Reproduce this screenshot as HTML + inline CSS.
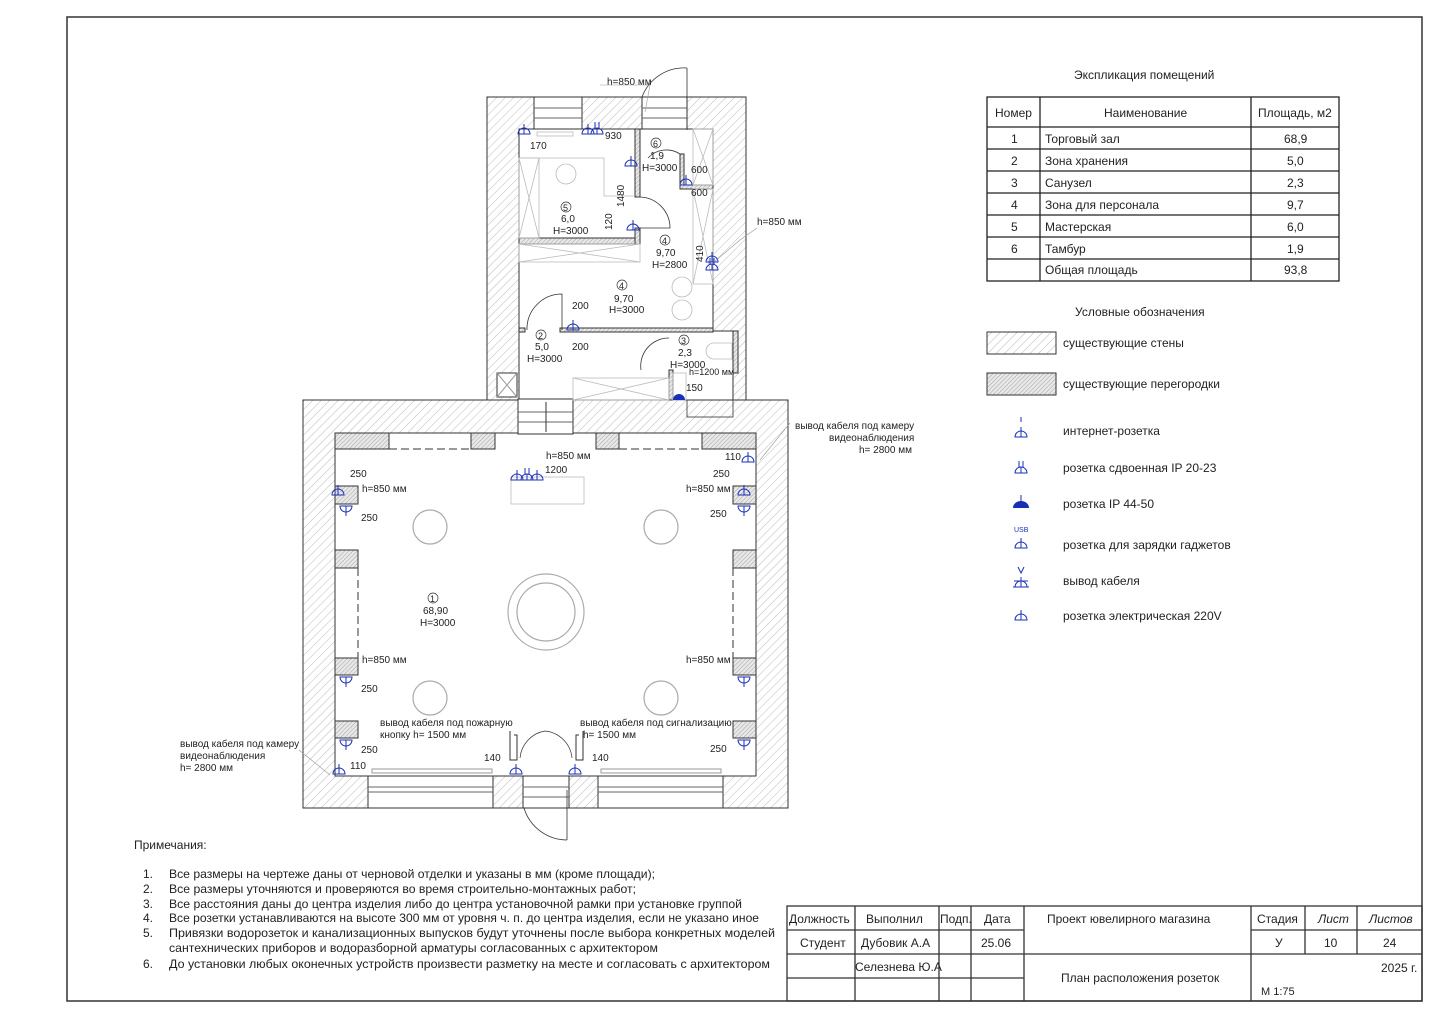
<!DOCTYPE html>
<html><head><meta charset="utf-8"><style>
html,body{margin:0;padding:0;background:#fff;}
svg{display:block;font-family:"Liberation Sans","DejaVu Sans",sans-serif;}
.t{font-size:10px;fill:#222;}
.n{font-size:12px;fill:#222;}
.bl{stroke:#1a2fb8;fill:none;stroke-width:1;}
</style></head><body>
<svg width="1440" height="1020" viewBox="0 0 1440 1020" xmlns="http://www.w3.org/2000/svg">
<defs>
<pattern id="h" patternUnits="userSpaceOnUse" width="6" height="6" patternTransform="rotate(45)">
<rect width="6" height="6" fill="#fff"/><line x1="0" y1="0" x2="0" y2="6" stroke="#aaa" stroke-width="0.8"/></pattern>
<pattern id="h2" patternUnits="userSpaceOnUse" width="3" height="3" patternTransform="rotate(45)">
<rect width="3" height="3" fill="#e8e8e8"/><line x1="0" y1="0" x2="0" y2="3" stroke="#888" stroke-width="0.7"/></pattern>
<g id="s"><path d="M-6,0 A6,6 0 0 1 6,0 Z" class="bl"/><line x1="0" y1="-10" x2="0" y2="0" class="bl"/></g>
<g id="sd"><path d="M-6,0 A6,6 0 0 1 6,0 Z" class="bl"/><line x1="0" y1="-6" x2="0" y2="0" class="bl"/><line x1="-2" y1="-12" x2="-2" y2="-5" class="bl"/><line x1="2" y1="-12" x2="2" y2="-5" class="bl"/></g>
<g id="sd2"><path d="M-6,0 A6,6 0 0 0 6,0 Z" class="bl"/><line x1="0" y1="10" x2="0" y2="0" class="bl"/></g>
</defs>
<rect width="1440" height="1020" fill="#fff"/>
<rect x="67" y="17" width="1355" height="984" fill="none" stroke="#333" stroke-width="1.5"/>

<path d="M487,97 H746 V400 H733 V331 H713 V129 H519 V400 H487 Z" fill="url(#h)" stroke="#333" stroke-width="1"/>
<path fill-rule="evenodd" d="M303,400 H788 V808 H303 Z M335,433 H756 V776 H335 Z" fill="url(#h)" stroke="#333" stroke-width="1"/>
<rect x="534" y="97" width="48" height="32" fill="#fff" stroke="#333"/>
<line x1="534" y1="108" x2="582" y2="108" stroke="#666"/><line x1="534" y1="118" x2="582" y2="118" stroke="#666"/>
<rect x="642" y="97" width="45" height="32" fill="#fff" stroke="#333"/>
<line x1="642" y1="108" x2="687" y2="108" stroke="#666"/><line x1="642" y1="118" x2="687" y2="118" stroke="#666"/>
<path d="M687,68 V130 M642,97 A45,45 0 0 1 687,68" fill="none" stroke="#333" stroke-width="0.8"/>
<rect x="518" y="399" width="55" height="35" fill="#fff" stroke="#333"/>
<line x1="518" y1="412" x2="573" y2="412" stroke="#666"/><line x1="518" y1="422" x2="573" y2="422" stroke="#666"/>
<line x1="546" y1="402" x2="546" y2="432" stroke="#333"/>
<rect x="335" y="433" width="54" height="16" fill="url(#h2)" stroke="#333"/>
<rect x="471" y="433" width="24" height="16" fill="url(#h2)" stroke="#333"/>
<rect x="596" y="433" width="23" height="16" fill="url(#h2)" stroke="#333"/>
<rect x="702" y="433" width="54" height="16" fill="url(#h2)" stroke="#333"/>
<line x1="389" y1="449" x2="471" y2="449" stroke="#333" stroke-dasharray="8,4"/>
<line x1="619" y1="449" x2="702" y2="449" stroke="#333" stroke-dasharray="8,4"/>
<g fill="url(#h2)" stroke="#333">
<rect x="335" y="486" width="23" height="18"/><rect x="335" y="550" width="23" height="18"/><rect x="335" y="658" width="23" height="17"/><rect x="335" y="721" width="23" height="17"/>
<rect x="733" y="486" width="23" height="18"/><rect x="733" y="550" width="23" height="18"/><rect x="733" y="658" width="23" height="17"/><rect x="733" y="721" width="23" height="17"/>
</g>
<line x1="358" y1="568" x2="358" y2="658" stroke="#333" stroke-dasharray="8,4"/>
<line x1="733" y1="568" x2="733" y2="658" stroke="#333" stroke-dasharray="8,4"/>
<rect x="368" y="776" width="125" height="32" fill="#fff" stroke="#333"/>
<line x1="368" y1="787" x2="493" y2="787" stroke="#666"/><line x1="368" y1="792" x2="493" y2="792" stroke="#666"/>
<rect x="598" y="776" width="125" height="32" fill="#fff" stroke="#333"/>
<line x1="598" y1="787" x2="723" y2="787" stroke="#666"/><line x1="598" y1="792" x2="723" y2="792" stroke="#666"/>
<rect x="523" y="776" width="46" height="32" fill="#fff" stroke="#333"/>
<line x1="523" y1="787" x2="569" y2="787" stroke="#666"/><line x1="523" y1="797" x2="569" y2="797" stroke="#666"/>
<path d="M567,790 V840 M524,808 A45,45 0 0 0 567,840" fill="none" stroke="#333" stroke-width="0.8"/>
<path d="M510,731 V760 H517 V735 H514 M583,731 V760 H576 V735 H579" fill="none" stroke="#333"/>
<path d="M520,758 A30,30 0 0 1 545,731 M572,758 A30,30 0 0 0 545,731" fill="none" stroke="#333" stroke-width="0.7"/>
<rect x="372" y="769" width="120" height="4" fill="none" stroke="#999"/>
<rect x="601" y="769" width="120" height="4" fill="none" stroke="#999"/>

<g fill="url(#h2)" stroke="#333">
<rect x="519" y="238" width="121" height="6"/>
<rect x="635" y="129" width="5" height="68"/>
<rect x="635" y="228" width="5" height="16"/>
<rect x="680" y="154" width="4" height="34"/>
<rect x="680" y="185" width="33" height="4"/>
<rect x="560" y="328" width="153" height="4"/>
<rect x="519" y="328" width="6" height="4"/>
<rect x="669" y="370" width="4" height="30"/>
<rect x="733" y="331" width="5" height="42"/>
</g>
<rect x="497" y="373" width="20" height="24" fill="#fff" stroke="#333"/>
<path d="M497,373 L517,397 M517,373 L497,397" stroke="#999"/>
<path d="M527,330 A35,35 0 0 1 562,294 V330" fill="none" stroke="#333" stroke-width="0.8"/>
<path d="M640,197 A31,31 0 0 1 670,228 H640" fill="none" stroke="#333" stroke-width="0.8"/>
<path d="M641,370 A28,28 0 0 1 669,338" fill="none" stroke="#333" stroke-width="0.8"/>
<path d="M648,158 A25,25 0 0 1 680,154" fill="none" stroke="#333" stroke-width="0.8"/>
<g fill="none" stroke="#bbb" stroke-width="0.8">
<rect x="537" y="132" width="36" height="4"/>
<path d="M519,158 H604 V196 H635"/>
<rect x="519" y="244" width="121" height="18"/><path d="M519,244 L640,262 M640,244 L519,262"/>
<rect x="519" y="158" width="20" height="80"/><path d="M519,158 L539,238 M539,158 L519,238"/>
<rect x="693" y="129" width="20" height="56"/><path d="M693,129 L713,185 M713,129 L693,185"/>
<rect x="693" y="189" width="20" height="95"/><path d="M693,189 L713,284 M713,189 L693,284"/>
<rect x="573" y="378" width="96" height="22"/><path d="M573,378 L669,400 M669,378 L573,400"/>
<rect x="673" y="373" width="13" height="27"/>
<circle cx="566" cy="174" r="10"/><circle cx="682" cy="287" r="10"/><circle cx="682" cy="310" r="10"/>
<path d="M714,343 H732 V359 H714 A8,8 0 0 1 714,343"/>
<rect x="687" y="400" width="46" height="17" stroke="#333"/>
<rect x="511" y="477" width="73" height="27"/>
</g>
<g fill="none" stroke="#aaa" stroke-width="1.2">
<circle cx="430" cy="527" r="17"/><circle cx="661" cy="527" r="17"/>
<circle cx="430" cy="698" r="17"/><circle cx="661" cy="698" r="17"/>
<circle cx="546" cy="612" r="38"/><circle cx="546" cy="612" r="29"/>
</g>
<g>
<use href="#s" x="338" y="495"/><use href="#sd2" x="346" y="506"/>
<use href="#sd2" x="346" y="677"/><use href="#sd2" x="346" y="740"/>
<use href="#s" x="339" y="774"/>
<use href="#s" x="744" y="495"/><use href="#sd2" x="744" y="506"/>
<use href="#sd2" x="744" y="677"/><use href="#sd2" x="744" y="740"/>
<use href="#s" x="748" y="462"/>
<use href="#s" x="517" y="480"/><use href="#sd" x="527" y="480"/><use href="#s" x="537" y="480"/>
<use href="#s" x="516" y="774"/><use href="#s" x="575" y="774"/>
<use href="#s" x="524" y="134"/><use href="#s" x="588" y="134"/><use href="#sd" x="597" y="134"/>
<use href="#s" x="631" y="166"/><use href="#s" x="633" y="230"/><use href="#s" x="686" y="185"/>
<use href="#s" x="573" y="330"/><use href="#s" x="712" y="262"/><use href="#sd" x="712" y="270"/>
<path d="M673,400 A6,6 0 0 1 685,400 Z" fill="#1a2fb8"/>
</g>
<g class="t">
<text x="607" y="85">h=850 мм</text>
<text x="757" y="225">h=850 мм</text>
<text x="530" y="149">170</text><text x="605" y="139">930</text>
<circle cx="656" cy="143" r="5" fill="none" stroke="#333" stroke-width="0.7"/><text x="653" y="147" font-size="9">6</text>
<text x="650" y="159">1,9</text><text x="642" y="171">H=3000</text>
<text x="691" y="173">600</text><text x="691" y="196">600</text>
<circle cx="566" cy="207" r="5" fill="none" stroke="#333" stroke-width="0.7"/><text x="563" y="211" font-size="9">5</text>
<text x="561" y="222">6,0</text><text x="553" y="234">H=3000</text>
<text x="0" y="0" transform="translate(624,207) rotate(-90)">1480</text>
<text x="0" y="0" transform="translate(612,230) rotate(-90)">120</text>
<circle cx="665" cy="240" r="5" fill="none" stroke="#333" stroke-width="0.7"/><text x="662" y="244" font-size="9">4</text>
<text x="656" y="256">9,70</text><text x="652" y="268">H=2800</text>
<text x="0" y="0" transform="translate(703,262) rotate(-90)">410</text>
<circle cx="622" cy="285" r="5" fill="none" stroke="#333" stroke-width="0.7"/><text x="619" y="289" font-size="9">4</text>
<text x="614" y="302">9,70</text><text x="609" y="313">H=3000</text>
<text x="572" y="309">200</text><text x="572" y="350">200</text>
<circle cx="541" cy="335" r="5" fill="none" stroke="#333" stroke-width="0.7"/><text x="538" y="339" font-size="9">2</text>
<text x="535" y="350">5,0</text><text x="527" y="362">H=3000</text>
<circle cx="684" cy="340" r="5" fill="none" stroke="#333" stroke-width="0.7"/><text x="681" y="344" font-size="9">3</text>
<text x="678" y="356">2,3</text><text x="670" y="368">H=3000</text>
<text x="689" y="375" font-size="9">h=1200 мм</text><text x="686" y="391">150</text>
<text x="546" y="459">h=850 мм</text><text x="545" y="473">1200</text>
<text x="725" y="460">110</text>
<text x="350" y="477">250</text><text x="362" y="492">h=850 мм</text><text x="361" y="521">250</text>
<text x="713" y="477">250</text><text x="686" y="492">h=850 мм</text><text x="710" y="517">250</text>
<text x="362" y="663">h=850 мм</text><text x="361" y="692">250</text>
<text x="686" y="663">h=850 мм</text>
<text x="361" y="753">250</text><text x="710" y="752">250</text>
<text x="350" y="769">110</text><text x="484" y="761">140</text><text x="592" y="761">140</text>
<circle cx="433" cy="598" r="5" fill="none" stroke="#333" stroke-width="0.7"/><text x="430" y="602" font-size="9">1</text>
<text x="423" y="614">68,90</text><text x="420" y="626">H=3000</text>
<text x="380" y="726">вывод кабеля под пожарную</text><text x="380" y="738">кнопку h= 1500 мм</text>
<text x="580" y="726">вывод кабеля под сигнализацию</text><text x="583" y="738">h= 1500 мм</text>
<text x="795" y="429">вывод кабеля под камеру</text>
<text x="829" y="441">видеонаблюдения</text><text x="859" y="453">h= 2800 мм</text>
<text x="180" y="747">вывод кабеля под камеру</text>
<text x="180" y="759">видеонаблюдения</text><text x="180" y="771">h= 2800 мм</text>
</g>
<g stroke="#999" stroke-width="0.6" fill="none">
<path d="M600,85 H650 L645,112"/><path d="M757,228 L740,240 L714,262"/><path d="M790,423 L760,460"/><path d="M299,750 L330,775"/>
</g>

<text x="1074" y="79" class="n">Экспликация помещений</text>
<g stroke="#222" stroke-width="1.3" fill="none">
<rect x="987" y="97" width="352" height="184"/>
<path d="M1040,97 V281 M1251,97 V281 M987,127 H1339 M987,149 H1339 M987,171 H1339 M987,193 H1339 M987,215 H1339 M987,237 H1339 M987,259 H1339"/>
</g>
<g class="n">
<text x="995" y="117">Номер</text><text x="1104" y="117">Наименование</text><text x="1258" y="117">Площадь, м2</text>
<text x="1011" y="143">1</text><text x="1045" y="143">Торговый зал</text><text x="1284" y="143">68,9</text>
<text x="1011" y="165">2</text><text x="1045" y="165">Зона хранения</text><text x="1287" y="165">5,0</text>
<text x="1011" y="187">3</text><text x="1045" y="187">Санузел</text><text x="1287" y="187">2,3</text>
<text x="1011" y="209">4</text><text x="1045" y="209">Зона для персонала</text><text x="1287" y="209">9,7</text>
<text x="1011" y="231">5</text><text x="1045" y="231">Мастерская</text><text x="1287" y="231">6,0</text>
<text x="1011" y="253">6</text><text x="1045" y="253">Тамбур</text><text x="1287" y="253">1,9</text>
<text x="1045" y="274">Общая площадь</text><text x="1284" y="274">93,8</text>
<text x="1075" y="316">Условные обозначения</text>
<text x="1063" y="347">существующие стены</text>
<text x="1063" y="388">существующие перегородки</text>
<text x="1063" y="435">интернет-розетка</text>
<text x="1063" y="472">розетка сдвоенная IP 20-23</text>
<text x="1063" y="508">розетка IP 44-50</text>
<text x="1063" y="549">розетка для зарядки гаджетов</text>
<text x="1063" y="585">вывод кабеля</text>
<text x="1063" y="620">розетка электрическая 220V</text>
</g>
<rect x="987" y="332" width="69" height="22" fill="url(#h)" stroke="#333"/>
<rect x="987" y="373" width="69" height="22" fill="url(#h2)" stroke="#333"/>
<use href="#s" x="1021" y="437"/><line x1="1021" y1="417" x2="1021" y2="422" class="bl"/>
<use href="#sd" x="1021" y="473"/>
<path d="M1013,508 A8,7 0 0 1 1029,508 Z" fill="#1a2fb8"/><line x1="1021" y1="495" x2="1021" y2="502" class="bl"/>
<text x="1014" y="532" font-size="7" fill="#1a2fb8">USB</text><use href="#s" x="1021" y="548"/>
<use href="#s" x="1021" y="587"/><path d="M1013,587 L1029,587 M1018,567 L1021,573 L1024,567" class="bl"/><line x1="1014" y1="581" x2="1028" y2="581" class="bl"/>
<use href="#s" x="1021" y="620"/>

<g class="n" font-size="12">
<text x="134" y="849">Примечания:</text>
<text x="143" y="878">1.</text><text x="169" y="878" textLength="486" lengthAdjust="spacingAndGlyphs">Все размеры на чертеже даны от черновой отделки и указаны в мм (кроме площади);</text>
<text x="143" y="893">2.</text><text x="169" y="893" textLength="467" lengthAdjust="spacingAndGlyphs">Все размеры уточняются  и проверяются во время строительно-монтажных работ;</text>
<text x="143" y="908">3.</text><text x="169" y="908" textLength="573" lengthAdjust="spacingAndGlyphs">Все расстояния даны до центра изделия либо до центра установочной рамки при установке группой</text>
<text x="143" y="922">4.</text><text x="169" y="922" textLength="590" lengthAdjust="spacingAndGlyphs">Все розетки устанавливаются на высоте 300 мм от уровня ч. п. до центра изделия, если не указано иное</text>
<text x="143" y="937">5.</text><text x="169" y="937" textLength="606" lengthAdjust="spacingAndGlyphs">Привязки водорозеток и канализационных выпусков будут уточнены после выбора конкретных моделей</text>
<text x="169" y="952" textLength="489" lengthAdjust="spacingAndGlyphs">сантехнических приборов и водоразборной арматуры согласованных с архитектором</text>
<text x="143" y="968">6.</text><text x="169" y="968" textLength="601" lengthAdjust="spacingAndGlyphs">До установки любых оконечных устройств произвести разметку на месте и согласовать с архитектором</text>
</g>

<g stroke="#333" stroke-width="1.3" fill="none">
<rect x="787" y="906" width="635" height="95"/>
<path d="M787,930 H1024 M1251,930 H1422 M787,954 H1422 M787,978 H1024 M855,906 V1001 M939,906 V1001 M971,906 V1001 M1024,906 V1001 M1251,906 V954 M1305,906 V954 M1357,906 V954 M1251,954 V1001"/>
</g>
<g class="n">
<text x="789" y="923">Должность</text><text x="866" y="923">Выполнил</text><text x="940" y="923">Подп.</text><text x="984" y="923">Дата</text>
<text x="1047" y="923">Проект ювелирного магазина</text>
<text x="1257" y="923">Стадия</text><text x="1318" y="923" font-style="italic">Лист</text><text x="1369" y="923" font-style="italic">Листов</text>
<text x="800" y="947">Студент</text><text x="861" y="947">Дубовик А.А</text><text x="981" y="947">25.06</text>
<text x="1275" y="947">У</text><text x="1324" y="947">10</text><text x="1383" y="947">24</text>
<text x="855" y="971">Селезнева Ю.А</text>
<text x="1061" y="982">План расположения розеток</text>
<text x="1381" y="972">2025 г.</text>
<text x="1261" y="995" font-size="11">М 1:75</text>
</g>
</svg>
</body></html>
